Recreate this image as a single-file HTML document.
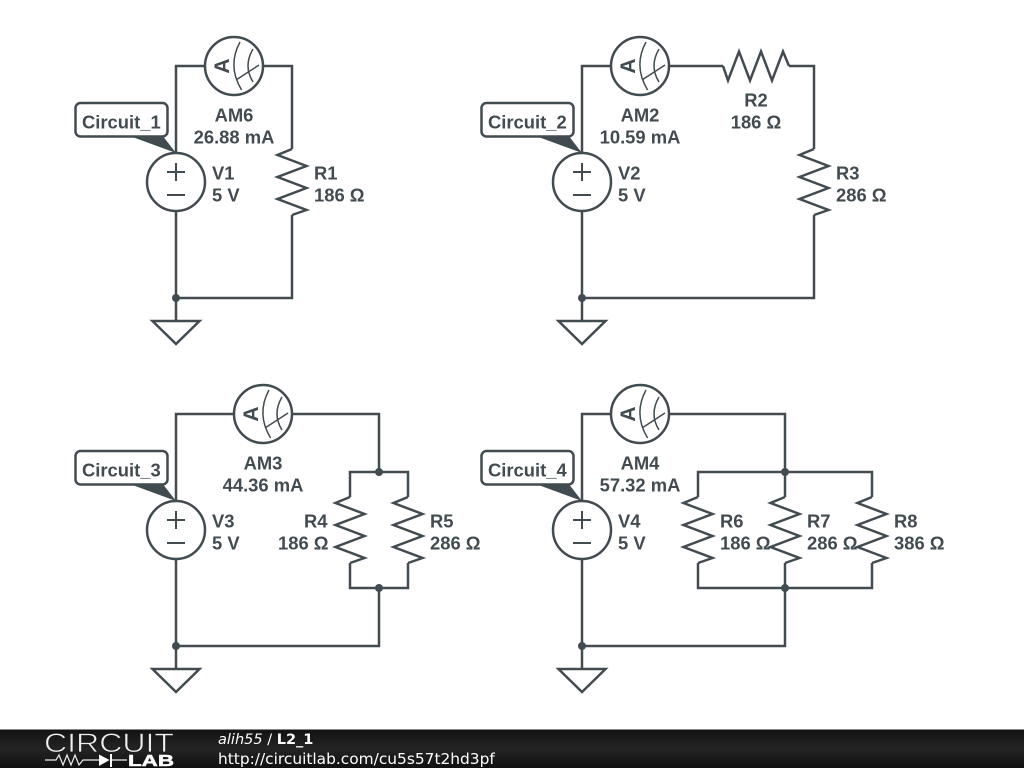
<!DOCTYPE html>
<html><head><meta charset="utf-8"><style>
html,body{margin:0;padding:0;background:#fff;width:1024px;height:768px;overflow:hidden}
svg{display:block}
.w{fill:none;stroke:#424c50;stroke-width:2.500}
.t{font:bold 18.400px "Liberation Sans",sans-serif;fill:#424c50}
.a{font:bold 21px "Liberation Sans",sans-serif;fill:#424c50;text-anchor:middle}
.m{text-anchor:middle}
.f{font:14.500px "DejaVu Sans",sans-serif;fill:#fff}
</style></head><body>
<svg width="1024" height="768" viewBox="0 0 1024 768" xmlns="http://www.w3.org/2000/svg">
<defs>
<linearGradient id="g" x1="0" y1="0" x2="0" y2="1"><stop offset="0" stop-color="#111"/><stop offset=".5" stop-color="#242424"/><stop offset="1" stop-color="#111"/></linearGradient>
<g id="rv"><path class="w" d="M0 -33L-14.500 -27L14.500 -16L-14.500 -5L14.500 6L-14.500 17L14.500 28L0 33"/></g>
<g id="am"><circle class="w" r="29"/>
<path d="M6 -24Q-7 0 7.600 24M19 -17Q9 0 19 16M2 14L25 -1" fill="none" stroke="#424c50" stroke-width="1.500"/></g>
<g id="vs"><circle class="w" r="29"/><path d="M-9 -10H9M0 -19V-1M-9 13H9" fill="none" stroke="#424c50" stroke-width="2"/></g>
<g id="gnd"><path class="w" d="M0 -23V0M-23.500 0H23.500L0 23Z"/></g>
<g id="lab"><path d="M52 33L101 51L87 33Z" fill="#424c50"/><rect x="0.500" y="1" width="92" height="33.500" rx="5" fill="#fff" stroke="#424c50" stroke-width="2.500"/></g>
</defs>

<!-- Circuit 1 -->
<path class="w" d="M176 153V66H205M263 66H292V149M292 215V298H176M176 211V298"/>
<use href="#am" x="234" y="66"/><use href="#vs" x="176" y="182"/><use href="#rv" x="292" y="182"/>
<text class="a" transform="translate(229 66) rotate(-90)">A</text>
<circle cx="176" cy="298" r="4" fill="#424c50"/><use href="#gnd" x="176" y="321"/>
<use href="#lab" x="75" y="102"/>
<text class="t" x="82" y="128.500">Circuit_1</text>
<text class="t m" x="234" y="121.500">AM6</text><text class="t m" x="234" y="143.500">26.88 mA</text>
<text class="t" x="212" y="179.500">V1</text><text class="t" x="212" y="201.500">5 V</text>
<text class="t" x="314" y="179.500">R1</text><text class="t" x="314" y="201.500">186 Ω</text>

<!-- Circuit 2 -->
<path class="w" d="M582 153V66H611M669 66H723M789 66H814V149M814 215V298H582M582 211V298"/>
<use href="#am" x="640" y="66"/><use href="#vs" x="582" y="182"/>
<text class="a" transform="translate(635 66) rotate(-90)">A</text>
<use href="#rv" transform="translate(756 66) rotate(90)"/><use href="#rv" x="814" y="182"/>
<circle cx="582" cy="298" r="4" fill="#424c50"/><use href="#gnd" x="582" y="321"/>
<use href="#lab" x="481" y="102"/>
<text class="t" x="488" y="128.500">Circuit_2</text>
<text class="t m" x="640" y="121.500">AM2</text><text class="t m" x="640" y="143.500">10.59 mA</text>
<text class="t" x="618" y="179.500">V2</text><text class="t" x="618" y="201.500">5 V</text>
<text class="t m" x="756" y="106.500">R2</text><text class="t m" x="756" y="128.500">186 Ω</text>
<text class="t" x="836" y="179.500">R3</text><text class="t" x="836" y="201.500">286 Ω</text>

<!-- Circuit 3 -->
<path class="w" d="M176 501V414H234M292 414H379V472M350 497V472H408V497M350 563V588H408V563M379 588V646H176M176 559V646"/>
<use href="#am" x="263" y="414"/><use href="#vs" x="176" y="530"/>
<text class="a" transform="translate(258 414) rotate(-90)">A</text>
<use href="#rv" x="350" y="530"/><use href="#rv" x="408" y="530"/>
<circle cx="379" cy="472" r="4" fill="#424c50"/><circle cx="379" cy="588" r="4" fill="#424c50"/>
<circle cx="176" cy="646" r="4" fill="#424c50"/><use href="#gnd" x="176" y="669"/>
<use href="#lab" x="75" y="450"/>
<text class="t" x="82" y="476.500">Circuit_3</text>
<text class="t m" x="263" y="469.500">AM3</text><text class="t m" x="263" y="491.500">44.36 mA</text>
<text class="t" x="212" y="527.500">V3</text><text class="t" x="212" y="549.500">5 V</text>
<text class="t" x="304" y="527.500">R4</text><text class="t" x="278" y="549.500">186 Ω</text>
<text class="t" x="430" y="527.500">R5</text><text class="t" x="430" y="549.500">286 Ω</text>

<!-- Circuit 4 -->
<path class="w" d="M582 501V414H611M669 414H785V497M698 497V472H872V497M698 563V588H872V563M785 563V646H582M582 559V646"/>
<use href="#am" x="640" y="414"/><use href="#vs" x="582" y="530"/>
<text class="a" transform="translate(635 414) rotate(-90)">A</text>
<use href="#rv" x="698" y="530"/><use href="#rv" x="785" y="530"/><use href="#rv" x="872" y="530"/>
<circle cx="785" cy="472" r="4" fill="#424c50"/><circle cx="785" cy="588" r="4" fill="#424c50"/>
<circle cx="582" cy="646" r="4" fill="#424c50"/><use href="#gnd" x="582" y="669"/>
<use href="#lab" x="481" y="450"/>
<text class="t" x="488" y="476.500">Circuit_4</text>
<text class="t m" x="640" y="469.500">AM4</text><text class="t m" x="640" y="491.500">57.32 mA</text>
<text class="t" x="618" y="527.500">V4</text><text class="t" x="618" y="549.500">5 V</text>
<text class="t" x="720" y="527.500">R6</text><text class="t" x="720" y="549.500">186 Ω</text>
<text class="t" x="807" y="527.500">R7</text><text class="t" x="807" y="549.500">286 Ω</text>
<text class="t" x="894" y="527.500">R8</text><text class="t" x="894" y="549.500">386 Ω</text>

<!-- Footer -->
<rect x="0" y="729" width="1024" height="39" fill="url(#g)"/>
<rect x="0" y="729" width="1024" height="1" fill="#888"/>
<text x="44" y="752" font-family="Liberation Sans,sans-serif" font-size="27" fill="#eee" stroke="#1c1c1c" stroke-width="0.700" textLength="130" lengthAdjust="spacingAndGlyphs">CIRCUIT</text>
<path d="M45 760H56L59 755L63 765L67 755L71 765L75 755L79 765L83 760H99M110 760H127" fill="none" stroke="#eee" stroke-width="1.200"/>
<path d="M99 754.500V766L109.500 760Z M110 754V767H112V754Z" fill="#fff"/>
<text x="128" y="766" font-family="Liberation Sans,sans-serif" font-weight="bold" font-size="16" fill="#fff" stroke="#fff" stroke-width="0.500" textLength="46" lengthAdjust="spacingAndGlyphs">LAB</text>
<text class="f" x="218" y="744"><tspan font-style="italic">alih55</tspan> / <tspan font-weight="bold">L2_1</tspan></text>
<text class="f" x="218" y="764" style="font-size:15.400px">http://circuitlab.com/cu5s57t2hd3pf</text>
</svg>
</body></html>
